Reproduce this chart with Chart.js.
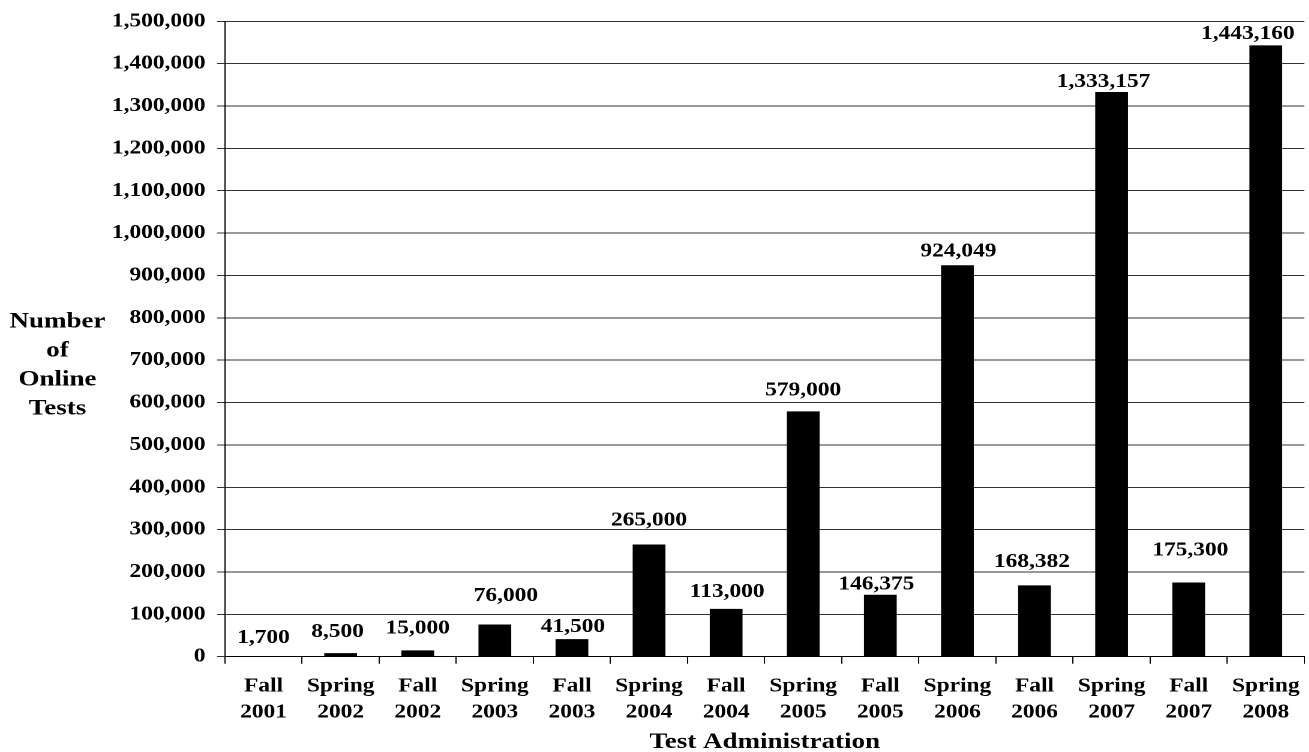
<!DOCTYPE html>
<html>
<head>
<meta charset="utf-8">
<title>Number of Online Tests by Test Administration</title>
<script src="https://cdn.jsdelivr.net/npm/chart.js@4.4.1/dist/chart.umd.min.js"></script>
<style>
  html, body { margin: 0; padding: 0; background: #ffffff; overflow: hidden; }
  /* the chart is laid out narrow and widened horizontally, giving the wide serif lettering */
  #wrap { width: 1093px; height: 752px; transform: scaleX(1.2); transform-origin: 0 0; }
</style>
</head>
<body>
<div id="wrap"><canvas id="chart" width="1093" height="752"></canvas></div>
<script>
// ---- data ----
const seasons = ['Fall', 'Spring', 'Fall', 'Spring', 'Fall', 'Spring', 'Fall',
                 'Spring', 'Fall', 'Spring', 'Fall', 'Spring', 'Fall', 'Spring'];
const years = ['2001', '2002', '2002', '2003', '2003', '2004', '2004',
               '2005', '2005', '2006', '2006', '2007', '2007', '2008'];
const onlineTests = [1700, 8500, 15000, 76000, 41500, 265000, 113000,
                     579000, 146375, 924049, 168382, 1333157, 175300, 1443160];
const yAxisMin = 0;
const yAxisMax = 1500000;
const yAxisStep = 100000;
const yTitleLines = ['Number', 'of', 'Online', 'Tests'];
const xTitle = 'Test Administration';

// ---- presentation ----
const STRETCH = 1.2;                 // horizontal widening applied by CSS
const FONT = '"Liberation Serif", "Times New Roman", serif';
// hand placed value labels: nudge from the bar top (x in screen px, y in px)
const labelNudgeX = [0, -3, 0, 11, 1, 0, 1, 0, -4, 1, -2.5, -8, 1.7, -18];
const labelNudgeY = [-18, -21, -22, -28.5, -12, -24, -17, -21, -10, -14, -23.6, -10, -32, -11.5];

const categories = seasons.map((s, i) => [s, years[i]]);
const fmt = v => Number(v).toLocaleString('en-US');

Chart.defaults.font.family = FONT;
Chart.defaults.font.weight = 'bold';
Chart.defaults.color = '#000';

const valueLabels = {
  id: 'valueLabels',
  afterDatasetsDraw(chart) {
    const ctx = chart.ctx;
    const meta = chart.getDatasetMeta(0);
    ctx.save();
    ctx.font = 'bold 19.5px ' + FONT;
    ctx.fillStyle = '#000';
    ctx.textAlign = 'center';
    ctx.textBaseline = 'middle';
    meta.data.forEach((bar, i) => {
      const v = chart.data.datasets[0].data[i];
      ctx.fillText(fmt(v), bar.x + labelNudgeX[i] / STRETCH, bar.y + labelNudgeY[i]);
    });
    ctx.restore();
  }
};

const yTitleBlock = {
  id: 'yTitleBlock',
  afterDraw(chart) {
    const ctx = chart.ctx;
    ctx.save();
    ctx.font = 'bold 22.5px ' + FONT;
    ctx.fillStyle = '#000';
    ctx.textAlign = 'center';
    ctx.textBaseline = 'alphabetic';
    yTitleLines.forEach((t, i) => ctx.fillText(t, 47.9, 327.7 + i * 29));
    ctx.restore();
  }
};

new Chart(document.getElementById('chart'), {
  type: 'bar',
  data: {
    labels: categories,
    datasets: [{
      label: 'Number of Online Tests',
      data: onlineTests,
      backgroundColor: '#000',
      borderWidth: 0,
      categoryPercentage: 1,
      barPercentage: 0.425
    }]
  },
  options: {
    responsive: false,
    animation: false,
    devicePixelRatio: 2,
    layout: { padding: { top: 20.7, left: 0, right: 0, bottom: 0 } },
    plugins: {
      legend: { display: false },
      tooltip: { enabled: false }
    },
    scales: {
      x: {
        afterFit(scale) { scale.height = 95.3; },
        grid: {
          offset: true,
          drawOnChartArea: false,
          drawTicks: true,
          tickLength: 7,
          color: '#000',
          lineWidth: 1
        },
        border: { display: true, color: '#000', width: 1 },
        ticks: {
          padding: 10,
          maxRotation: 0,
          autoSkip: false,
          color: '#000',
          font: { size: 19.5, weight: 'bold', lineHeight: 1.333 }
        },
        title: {
          display: true,
          text: xTitle,
          color: '#000',
          padding: 0,
          font: { size: 22.5, weight: 'bold', lineHeight: 0.89 }
        }
      },
      y: {
        min: yAxisMin,
        max: yAxisMax,
        afterFit(scale) { scale.width = 187.5; },
        grid: {
          drawOnChartArea: true,
          drawTicks: true,
          tickLength: 8 / STRETCH,
          color: '#333',
          lineWidth: 1
        },
        border: { display: true, color: '#000', width: 1 },
        ticks: {
          stepSize: yAxisStep,
          padding: 9.6,
          color: '#000',
          font: { size: 19.5, weight: 'bold' },
          callback: v => fmt(v)
        }
      }
    }
  },
  plugins: [valueLabels, yTitleBlock]
});
</script>
</body>
</html>
